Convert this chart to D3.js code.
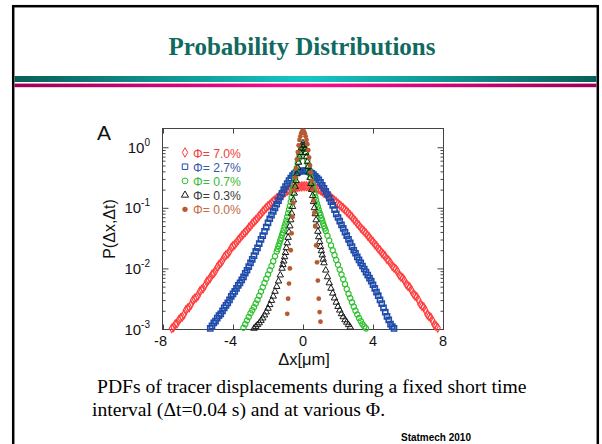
<!DOCTYPE html>
<html><head><meta charset="utf-8">
<script src="https://cdn.jsdelivr.net/npm/d3@7"></script>
<style>body{margin:0;background:#fff}svg{display:block}</style>
</head><body>
<svg id="c" width="602" height="444"></svg>
<script>
// ---- data: [Δx (µm), log10 P(Δx,Δt)] ----
const legendLabels = ["Φ= 7.0%", "Φ= 2.7%", "Φ= 0.7%", "Φ= 0.3%", "Φ= 0.0%"];
const xTicks = [-8, -4, 0, 4, 8];
const yTicks = [1e-3, 1e-2, 1e-1, 1e0];
const yTickExp = ["-3", "-2", "-1", "0"];

const phi70 = [[-7.5,-2.99],[-7.4,-2.97],[-7.3,-2.92],[-7.2,-2.91],[-7.1,-2.85],[-7.0,-2.82],[-6.9,-2.80],[-6.8,-2.76],[-6.7,-2.69],[-6.6,-2.66],[-6.5,-2.64],[-6.4,-2.60],[-6.3,-2.53],[-6.2,-2.50],[-6.1,-2.48],[-6.0,-2.45],[-5.9,-2.38],[-5.8,-2.35],[-5.7,-2.33],[-5.6,-2.28],[-5.5,-2.22],[-5.4,-2.19],[-5.3,-2.16],[-5.2,-2.10],[-5.1,-2.08],[-5.0,-2.04],[-4.9,-1.98],[-4.8,-1.94],[-4.7,-1.91],[-4.6,-1.87],[-4.5,-1.81],[-4.4,-1.78],[-4.3,-1.76],[-4.2,-1.72],[-4.1,-1.66],[-4.0,-1.63],[-3.9,-1.61],[-3.8,-1.57],[-3.7,-1.53],[-3.6,-1.50],[-3.5,-1.46],[-3.4,-1.43],[-3.3,-1.40],[-3.2,-1.37],[-3.1,-1.33],[-3.0,-1.30],[-2.9,-1.26],[-2.8,-1.23],[-2.7,-1.20],[-2.6,-1.17],[-2.5,-1.13],[-2.4,-1.10],[-2.3,-1.06],[-2.2,-1.03],[-2.1,-1.00],[-2.0,-0.97],[-1.9,-0.95],[-1.8,-0.92],[-1.7,-0.89],[-1.6,-0.87],[-1.5,-0.84],[-1.4,-0.82],[-1.3,-0.80],[-1.2,-0.78],[-1.1,-0.76],[-1.0,-0.74],[-0.9,-0.72],[-0.8,-0.71],[-0.7,-0.69],[-0.6,-0.68],[-0.5,-0.67],[-0.4,-0.66],[-0.3,-0.655],[-0.2,-0.65],[-0.1,-0.648],[0,-0.645],[0.1,-0.645],[0.2,-0.645],[0.3,-0.648],[0.4,-0.65],[0.5,-0.655],[0.6,-0.66],[0.7,-0.67],[0.8,-0.68],[0.9,-0.695],[1.0,-0.71],[1.1,-0.73],[1.2,-0.75],[1.3,-0.77],[1.4,-0.79],[1.5,-0.81],[1.6,-0.83],[1.7,-0.855],[1.8,-0.88],[1.9,-0.905],[2.0,-0.93],[2.1,-0.955],[2.2,-0.98],[2.3,-1.005],[2.4,-1.03],[2.5,-1.06],[2.6,-1.09],[2.7,-1.12],[2.8,-1.15],[2.9,-1.19],[3.0,-1.22],[3.1,-1.26],[3.2,-1.29],[3.3,-1.33],[3.4,-1.36],[3.5,-1.39],[3.6,-1.42],[3.7,-1.46],[3.8,-1.49],[3.9,-1.53],[4.0,-1.56],[4.1,-1.60],[4.2,-1.63],[4.3,-1.67],[4.4,-1.70],[4.5,-1.74],[4.6,-1.77],[4.7,-1.80],[4.8,-1.85],[4.9,-1.87],[5.0,-1.91],[5.1,-1.96],[5.2,-1.99],[5.3,-2.01],[5.4,-2.05],[5.5,-2.11],[5.6,-2.14],[5.7,-2.16],[5.8,-2.20],[5.9,-2.26],[6.0,-2.29],[6.1,-2.31],[6.2,-2.36],[6.3,-2.42],[6.4,-2.45],[6.5,-2.47],[6.6,-2.52],[6.7,-2.59],[6.8,-2.62],[6.9,-2.64],[7.0,-2.69],[7.1,-2.76],[7.2,-2.79],[7.3,-2.81],[7.4,-2.86],[7.5,-2.93],[7.6,-2.95],[7.7,-2.98]];

const phi27 = [[-5.3,-2.99],[-5.2,-2.95],[-5.1,-2.90],[-5.0,-2.87],[-4.9,-2.82],[-4.8,-2.78],[-4.7,-2.75],[-4.6,-2.70],[-4.5,-2.65],[-4.4,-2.61],[-4.3,-2.57],[-4.2,-2.52],[-4.1,-2.46],[-4.0,-2.42],[-3.9,-2.38],[-3.8,-2.33],[-3.7,-2.28],[-3.6,-2.24],[-3.5,-2.19],[-3.4,-2.14],[-3.3,-2.08],[-3.2,-2.03],[-3.1,-1.97],[-3.0,-1.91],[-2.9,-1.85],[-2.8,-1.79],[-2.7,-1.72],[-2.6,-1.66],[-2.5,-1.59],[-2.4,-1.52],[-2.3,-1.46],[-2.2,-1.39],[-2.1,-1.32],[-2.0,-1.25],[-1.9,-1.18],[-1.8,-1.12],[-1.7,-1.06],[-1.6,-1.00],[-1.5,-0.94],[-1.4,-0.88],[-1.3,-0.82],[-1.2,-0.76],[-1.1,-0.70],[-1.0,-0.65],[-0.9,-0.60],[-0.8,-0.55],[-0.7,-0.51],[-0.6,-0.47],[-0.5,-0.44],[-0.4,-0.42],[-0.3,-0.41],[-0.2,-0.40],[-0.1,-0.39],[0,-0.39],[0.1,-0.39],[0.2,-0.39],[0.3,-0.40],[0.4,-0.41],[0.5,-0.43],[0.6,-0.45],[0.7,-0.48],[0.8,-0.51],[0.9,-0.54],[1.0,-0.58],[1.1,-0.63],[1.2,-0.68],[1.3,-0.73],[1.4,-0.78],[1.5,-0.84],[1.6,-0.90],[1.7,-0.96],[1.8,-1.03],[1.9,-1.10],[2.0,-1.16],[2.1,-1.22],[2.2,-1.28],[2.3,-1.34],[2.4,-1.40],[2.5,-1.46],[2.6,-1.52],[2.7,-1.58],[2.8,-1.64],[2.9,-1.70],[3.0,-1.75],[3.1,-1.81],[3.2,-1.86],[3.3,-1.91],[3.4,-1.96],[3.5,-2.01],[3.6,-2.06],[3.7,-2.11],[3.8,-2.16],[3.9,-2.21],[4.0,-2.27],[4.1,-2.33],[4.2,-2.39],[4.3,-2.45],[4.4,-2.52],[4.5,-2.58],[4.6,-2.65],[4.7,-2.72],[4.8,-2.79],[4.9,-2.85],[5.0,-2.92],[5.1,-2.96],[5.2,-2.99]];

const phi07 = [[-3.4,-2.98],[-3.3,-2.92],[-3.2,-2.86],[-3.1,-2.80],[-3.0,-2.74],[-2.9,-2.69],[-2.8,-2.64],[-2.7,-2.58],[-2.6,-2.52],[-2.5,-2.45],[-2.4,-2.38],[-2.3,-2.31],[-2.2,-2.24],[-2.1,-2.17],[-2.0,-2.10],[-1.9,-2.03],[-1.8,-1.96],[-1.7,-1.88],[-1.6,-1.80],[-1.5,-1.72],[-1.45,-1.68],[-1.4,-1.63],[-1.35,-1.59],[-1.3,-1.54],[-1.25,-1.50],[-1.2,-1.45],[-1.15,-1.41],[-1.1,-1.36],[-1.05,-1.31],[-1.0,-1.26],[-0.95,-1.21],[-0.9,-1.15],[-0.85,-1.09],[-0.8,-1.03],[-0.75,-0.97],[-0.7,-0.90],[-0.65,-0.83],[-0.6,-0.76],[-0.55,-0.68],[-0.5,-0.60],[-0.45,-0.51],[-0.4,-0.42],[-0.35,-0.34],[-0.3,-0.26],[-0.25,-0.19],[-0.2,-0.13],[-0.15,-0.08],[-0.1,-0.03],[-0.05,0.01],[0,0.03],[0.05,0.01],[0.1,-0.03],[0.15,-0.09],[0.2,-0.15],[0.25,-0.22],[0.3,-0.30],[0.35,-0.37],[0.4,-0.44],[0.45,-0.51],[0.5,-0.58],[0.55,-0.64],[0.6,-0.70],[0.65,-0.76],[0.7,-0.82],[0.75,-0.87],[0.8,-0.93],[0.85,-0.98],[0.9,-1.03],[0.95,-1.08],[1.0,-1.12],[1.05,-1.17],[1.1,-1.21],[1.15,-1.26],[1.2,-1.30],[1.25,-1.34],[1.3,-1.38],[1.4,-1.46],[1.5,-1.54],[1.6,-1.62],[1.7,-1.70],[1.8,-1.78],[1.9,-1.86],[2.0,-1.94],[2.1,-2.02],[2.2,-2.10],[2.3,-2.18],[2.4,-2.26],[2.5,-2.34],[2.6,-2.42],[2.7,-2.49],[2.8,-2.56],[2.9,-2.63],[3.0,-2.70],[3.1,-2.76],[3.2,-2.82],[3.3,-2.87],[3.4,-2.92],[3.5,-2.96],[3.6,-2.99]];

const phi03 = [[-2.8,-2.99],[-2.7,-2.96],[-2.6,-2.93],[-2.5,-2.90],[-2.4,-2.86],[-2.3,-2.82],[-2.2,-2.77],[-2.1,-2.72],[-2.0,-2.66],[-1.9,-2.60],[-1.8,-2.53],[-1.7,-2.46],[-1.6,-2.38],[-1.5,-2.30],[-1.4,-2.21],[-1.3,-2.11],[-1.2,-2.00],[-1.15,-1.94],[-1.1,-1.88],[-1.05,-1.81],[-1.0,-1.74],[-0.95,-1.66],[-0.9,-1.58],[-0.85,-1.49],[-0.8,-1.40],[-0.75,-1.30],[-0.7,-1.20],[-0.65,-1.09],[-0.6,-0.98],[-0.55,-0.87],[-0.5,-0.76],[-0.45,-0.65],[-0.4,-0.55],[-0.35,-0.44],[-0.3,-0.34],[-0.25,-0.25],[-0.2,-0.16],[-0.15,-0.09],[-0.1,-0.02],[-0.05,0.03],[0,0.07],[0.05,0.03],[0.1,-0.03],[0.15,-0.09],[0.2,-0.16],[0.25,-0.24],[0.3,-0.32],[0.35,-0.41],[0.4,-0.50],[0.45,-0.60],[0.5,-0.70],[0.55,-0.80],[0.6,-0.90],[0.65,-1.00],[0.7,-1.10],[0.75,-1.20],[0.8,-1.30],[0.85,-1.39],[0.9,-1.48],[0.95,-1.56],[1.0,-1.64],[1.05,-1.71],[1.1,-1.78],[1.15,-1.85],[1.2,-1.91],[1.3,-2.03],[1.4,-2.14],[1.5,-2.24],[1.6,-2.33],[1.7,-2.41],[1.8,-2.49],[1.9,-2.56],[2.0,-2.63],[2.1,-2.69],[2.2,-2.75],[2.3,-2.80],[2.4,-2.85],[2.5,-2.89],[2.6,-2.93],[2.7,-2.97]];

const phi00 = [[-0.90,-2.75],[-0.85,-2.50],[-0.80,-2.25],[-0.75,-2.00],[-0.70,-1.70],[-0.65,-1.42],[-0.60,-1.15],[-0.55,-0.92],[-0.50,-0.70],[-0.45,-0.50],[-0.40,-0.35],[-0.35,-0.20],[-0.30,-0.08],[-0.25,0.03],[-0.20,0.12],[-0.15,0.18],[-0.10,0.23],[-0.05,0.26],[0,0.27],[0.05,0.26],[0.10,0.23],[0.15,0.18],[0.20,0.12],[0.25,0.05],[0.30,-0.05],[0.35,-0.17],[0.40,-0.30],[0.45,-0.42],[0.50,-0.55],[0.55,-0.70],[0.60,-0.88],[0.65,-1.08],[0.70,-1.30],[0.75,-1.62],[0.80,-1.90],[0.85,-2.20],[0.90,-2.50],[0.95,-2.72],[1.00,-2.88]];

const seriesData = [phi70, phi27, phi07, phi03, phi00];
const colors = ["#ff3c3c", "#1f4cab", "#2ec02e", "#1a1a1a", "#b85a30"];
const textColors = ["#f03c3c", "#3559ab", "#38bb38", "#3c3c3c", "#c46a44"];

const svg = d3.select("#c");

function fit(sel, target, base) {
  sel.attr("font-size", base);
  const w = sel.node().getComputedTextLength();
  const fs = base * target / w;
  sel.attr("font-size", fs);
  return fs;
}

// ---- slide decoration ----
const defs = svg.append("defs");
const g1 = defs.append("linearGradient").attr("id", "tealG");
g1.append("stop").attr("offset", "0%").attr("stop-color", "#0a5e58");
g1.append("stop").attr("offset", "50%").attr("stop-color", "#16c6c6");
g1.append("stop").attr("offset", "100%").attr("stop-color", "#0a5e58");
const g2 = defs.append("linearGradient").attr("id", "pinkG");
g2.append("stop").attr("offset", "0%").attr("stop-color", "#9c0058");
g2.append("stop").attr("offset", "50%").attr("stop-color", "#ff0a8c");
g2.append("stop").attr("offset", "100%").attr("stop-color", "#9c0058");

svg.append("rect").attr("x", 0).attr("y", 0).attr("width", 602).attr("height", 444).attr("fill", "#fff");
svg.append("rect").attr("x", 13.2).attr("y", 6.2).attr("width", 584.6).attr("height", 460)
  .attr("fill", "none").attr("stroke", "#000").attr("stroke-width", 2.5);
svg.append("rect").attr("x", 14.5).attr("y", 76).attr("width", 582).attr("height", 6).attr("fill", "url(#tealG)");
svg.append("rect").attr("x", 14.5).attr("y", 83.6).attr("width", 582).attr("height", 3.6).attr("fill", "url(#pinkG)");

const title = svg.append("text").attr("x", 302).attr("y", 55).attr("text-anchor", "middle")
  .attr("font-family", "Liberation Serif, serif").attr("font-weight", "bold")
  .attr("fill", "#106a60").text("Probability Distributions");
fit(title, 267, 24);

// ---- chart ----
const x = d3.scaleLinear().domain([-8, 8]).range([163, 443]);
const y = d3.scaleLog().domain([1e-3, 2]).range([329, 129]);
const fSans = "Liberation Sans, Arial, sans-serif";

svg.append("rect").attr("x", 162.5).attr("y", 128.5).attr("width", 281).attr("height", 201)
  .attr("fill", "none").attr("stroke", "#444").attr("stroke-width", 1);

const minors = [];
[1e-3, 1e-2, 1e-1].forEach(d => { for (let k = 2; k <= 9; k++) minors.push(d * k); });

function styleAxis(g) {
  g.select(".domain").remove();
  g.selectAll("line").attr("stroke", "#444");
}
svg.append("g").attr("transform", "translate(162.5,0)")
  .call(d3.axisLeft(y).tickValues(yTicks).tickSize(-6).tickFormat("")).call(styleAxis);
svg.append("g").attr("transform", "translate(162.5,0)")
  .call(d3.axisLeft(y).tickValues(minors).tickSize(-3).tickFormat("")).call(styleAxis);
svg.append("g").attr("transform", "translate(443.5,0)")
  .call(d3.axisRight(y).tickValues(yTicks).tickSize(-6).tickFormat("")).call(styleAxis);
svg.append("g").attr("transform", "translate(443.5,0)")
  .call(d3.axisRight(y).tickValues(minors).tickSize(-3).tickFormat("")).call(styleAxis);
svg.append("g").attr("transform", "translate(0,329.5)")
  .call(d3.axisBottom(x).tickValues(xTicks).tickSize(-5).tickFormat("")).call(styleAxis);
svg.append("g").attr("transform", "translate(0,128.5)")
  .call(d3.axisTop(x).tickValues(xTicks).tickSize(-5).tickFormat("")).call(styleAxis);

svg.append("g").selectAll("text").data(xTicks).join("text")
  .attr("x", d => x(d) - (d < 0 ? 2.5 : 0)).attr("y", 346).attr("text-anchor", "middle")
  .attr("font-family", fSans).attr("font-size", 14.5).attr("fill", "#111")
  .text(d => d < 0 ? "-" + Math.abs(d) : d);

const yl = svg.append("g").selectAll("text").data(yTicks).join("text")
  .attr("x", 150).attr("y", d => y(d) + 5.5).attr("text-anchor", "end")
  .attr("font-family", fSans).attr("font-size", 15).attr("fill", "#111");
yl.append("tspan").text("10");
yl.append("tspan").attr("dy", -7).attr("font-size", 10).text((d, i) => yTickExp[i]);

svg.append("text").attr("x", 304).attr("y", 364.5).attr("text-anchor", "middle")
  .attr("font-family", fSans).attr("font-size", 16.5).attr("fill", "#111").text("Δx[μm]");
svg.append("text").attr("transform", "translate(115,229) rotate(-90)").attr("text-anchor", "middle")
  .attr("font-family", fSans).attr("font-size", 16).attr("fill", "#111").text("P(Δx,Δt)");
svg.append("text").attr("x", 97).attr("y", 140).attr("font-family", fSans).attr("font-size", 21)
  .attr("fill", "#111").text("A");

// markers
const shapes = [d3.symbolDiamond, d3.symbolSquare, d3.symbolCircle, d3.symbolTriangle, d3.symbolCircle];
const sizes = [22, 26, 22, 18, 18];
const fills = ["none", "none", "none", "none", colors[4]];
const widths = [1.1, 1.6, 1.2, 1, 0];

seriesData.forEach((s, i) => {
  svg.append("g").selectAll("path").data(s).join("path")
    .attr("transform", d => `translate(${x(d[0])},${y(Math.pow(10, d[1]))})`)
    .attr("d", d3.symbol().type(shapes[i]).size(sizes[i]))
    .attr("fill", fills[i]).attr("stroke", i === 4 ? "none" : colors[i])
    .attr("stroke-width", widths[i]);
});

// legend
const lg = svg.append("g");
let lfs = null;
legendLabels.forEach((t, i) => {
  const cy = 152.5 + i * 14.2;
  lg.append("path").attr("transform", `translate(185,${cy})`)
    .attr("d", d3.symbol().type(shapes[i]).size(sizes[i] + 4))
    .attr("fill", fills[i]).attr("stroke", i === 4 ? "none" : colors[i]).attr("stroke-width", 1);
  const tx = lg.append("text").attr("x", 193).attr("y", cy + 5).attr("font-family", fSans)
    .attr("fill", textColors[i]).text(t);
  if (lfs === null) lfs = fit(tx, 48, 13); else tx.attr("font-size", lfs);
});

// caption
const fSerif = "Liberation Serif, Times New Roman, serif";
const c1 = svg.append("text").attr("x", 97).attr("y", 393).attr("font-family", fSerif)
  .attr("fill", "#000").text("PDFs of tracer displacements during a fixed short time");
const cfs = fit(c1, 430, 18);
svg.append("text").attr("x", 92).attr("y", 415.5).attr("font-family", fSerif).attr("font-size", cfs)
  .attr("fill", "#000").text("interval (Δt=0.04 s) and at various Φ.");
const st = svg.append("text").attr("x", 401).attr("y", 441).attr("font-family", fSans)
  .attr("font-weight", "bold").attr("fill", "#000").text("Statmech 2010");
fit(st, 70, 9);
</script>
</body></html>
